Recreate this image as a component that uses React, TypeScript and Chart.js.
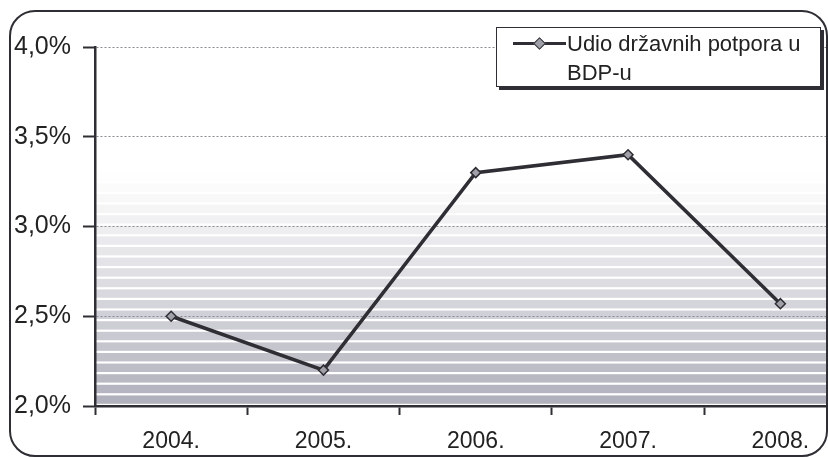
import React, { useEffect, useRef } from "react";
import { Chart, registerables } from "chart.js";

Chart.register(...registerables);

const categories = ["2004.", "2005.", "2006.", "2007.", "2008."];
const shareValues = [2.5, 2.2, 3.3, 3.4, 2.57];
const seriesName = "Udio državnih potpora u BDP-u";
const yMin = 2.0;
const yMax = 4.0;
const yStep = 0.5;

const stripesPlugin = {
  id: "stripes",
  beforeDraw(chart: any) {
    const { ctx, chartArea } = chart;
    if (!chartArea) return;
    const { left, right, top, bottom } = chartArea;
    const h = bottom - top;
    const start = top + h * 0.34;
    const period = 10.6;
    ctx.save();
    ctx.fillStyle = "#ffffff";
    ctx.fillRect(left, top, right - left, h);
    for (let y = bottom - period; y > start - period; y -= period) {
      const t = Math.max(0, (y - start) / (bottom - start));
      const a = Math.pow(t, 1.1) * 0.78;
      ctx.fillStyle = `rgba(150,150,166,${a})`;
      const y0 = Math.max(y, top);
      ctx.fillRect(left, y0, right - left, y + period - 2.2 - y0);
    }
    ctx.restore();
  },
};

export default function App() {
  const ref = useRef<HTMLCanvasElement | null>(null);

  useEffect(() => {
    if (!ref.current) return;
    const chart = new Chart(ref.current, {
      type: "line",
      data: {
        labels: categories,
        datasets: [
          {
            label: seriesName,
            data: shareValues,
            borderColor: "#2e2e34",
            borderWidth: 3.5,
            pointStyle: "rectRot",
            pointRadius: 5,
            pointBackgroundColor: "#a0a0a8",
            pointBorderColor: "#2e2e34",
            pointBorderWidth: 1.5,
            tension: 0,
          },
        ],
      },
      options: {
        animation: false,
        responsive: false,
        maintainAspectRatio: false,
        layout: { padding: { left: 0, top: 47, right: 13.5, bottom: 0 } },
        plugins: { legend: { display: false }, tooltip: { enabled: false } },
        scales: {
          x: {
            type: "category",
            offset: true,
            afterFit: (s: any) => {
              s.height = 51;
            },
            border: { color: "#2e2e34", width: 2.5 },
            grid: {
              offset: true,
              drawOnChartArea: false,
              tickLength: 9,
              tickColor: "#2e2e34",
              tickWidth: 2,
            },
            ticks: {
              color: "#222",
              padding: 13,
              maxRotation: 0,
              font: { family: "'Liberation Sans', Arial, sans-serif", size: 23 },
            },
          },
          y: {
            min: yMin,
            max: yMax,
            afterFit: (s: any) => {
              s.width = 95;
            },
            border: { color: "#2e2e34", width: 2.5, dash: [2, 2] },
            grid: {
              color: "#8a8a92",
              lineWidth: 1,
              tickLength: 12,
              tickColor: "#2e2e34",
              tickWidth: 2,
              tickBorderDash: [],
            },
            ticks: {
              stepSize: yStep,
              color: "#222",
              padding: 12,
              font: { family: "'Liberation Sans', Arial, sans-serif", size: 25 },
              callback: (v: any) => Number(v).toFixed(1).replace(".", ",") + "%",
            },
          },
        },
      },
      plugins: [stripesPlugin],
    });
    return () => chart.destroy();
  }, []);

  return (
    <div
      style={{
        position: "fixed",
        left: 0,
        top: 0,
        width: 828,
        height: 457,
        overflow: "hidden",
        background: "#ffffff",
      }}
    >
      <canvas ref={ref} width={870} height={457} style={{ position: "absolute", left: 0, top: 0, width: 870, height: 457 }} />
      <div
        style={{
          position: "absolute",
          left: 9,
          top: 10,
          width: 815,
          height: 443,
          border: "2px solid #2e2e34",
          borderRadius: 26,
          pointerEvents: "none",
        }}
      />
      <div
        style={{
          position: "absolute",
          left: 496,
          top: 27,
          width: 323,
          height: 58,
          border: "1.5px solid #2e2e34",
          boxShadow: "3px 3px 0 #2e2e34",
          background: "#ffffff",
          fontFamily: "'Liberation Sans', Arial, sans-serif",
          fontSize: 22,
          lineHeight: "29px",
          color: "#222",
        }}
      >
        <div style={{ position: "absolute", left: 16, top: 14, width: 53, height: 3, background: "#2e2e34" }} />
        <div
          style={{
            position: "absolute",
            left: 38,
            top: 11,
            width: 7,
            height: 7,
            background: "#a0a0a8",
            border: "1px solid #2e2e34",
            transform: "rotate(45deg)",
          }}
        />
        <div style={{ position: "absolute", left: 70, top: 1, width: 250 }}>
          Udio državnih potpora u
          <br />
          BDP-u
        </div>
      </div>
    </div>
  );
}
